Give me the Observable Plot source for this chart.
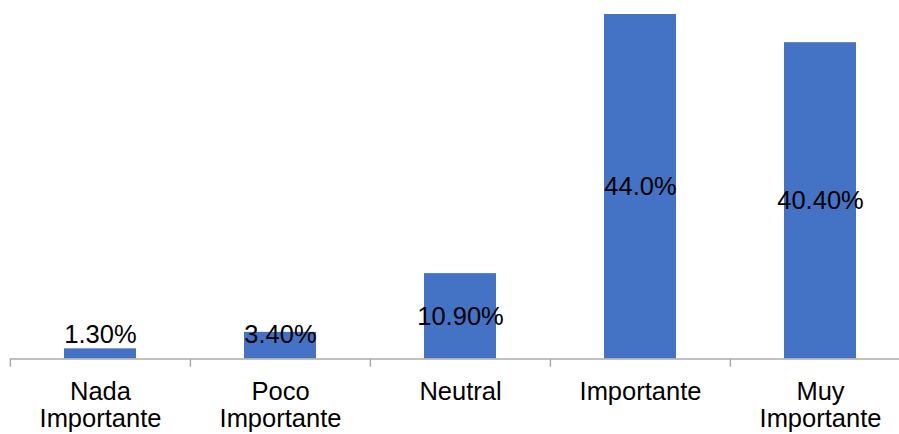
<!DOCTYPE html>
<html>
<head>
<meta charset="utf-8">
<script src="https://cdn.jsdelivr.net/npm/d3@7"></script>
<script src="https://cdn.jsdelivr.net/npm/@observablehq/plot@0.6"></script>
<style>
  html, body { margin: 0; padding: 0; background: #fff; }
  svg { display: block; font-family: "Liberation Sans", Arial, sans-serif; }
</style>
</head>
<body>
<div id="chart"></div>
<script>
const categories = ["Nada\nImportante", "Poco\nImportante", "Neutral", "Importante", "Muy\nImportante"];
const values = [1.3, 3.4, 10.9, 44.0, 40.4];
const valueLabels = ["1.30%", "3.40%", "10.90%", "44.0%", "40.40%"];

const data = categories.map((c, i) => ({cat: c, value: values[i], label: valueLabels[i]}));

const chart = Plot.plot({
  width: 899,
  height: 434,
  marginTop: 14,
  marginBottom: 75.5,
  marginLeft: 10,
  marginRight: 0,
  style: {fontFamily: "'Liberation Sans', Arial, sans-serif", background: "#fff"},
  x: {domain: categories, range: [10, 911], paddingInner: 0.6, paddingOuter: 0.3, label: null},
  y: {domain: [0, 44], range: [358.5, 14], axis: null},
  marks: [
    Plot.barY(data, {x: "cat", y: "value", fill: "#4472C4"}),
    Plot.ruleY([0], {stroke: "#ABABAB", strokeWidth: 1.5}),
    Plot.ruleX(categories, {x: d => d, dx: -90.1, y1: 0, y2: -1.05, stroke: "#ABABAB", strokeWidth: 1.5}),
    Plot.text(data, {x: "cat", y: d => Math.max(d.value / 2, 3.15), text: "label", fontSize: 25.5, fill: "#000", lineAnchor: "middle"}),
    Plot.axisX({tickSize: 0, tickPadding: 22.5, fontSize: 25.5, lineHeight: 1.04, fill: "#000", stroke: null, label: null})
  ]
});
document.getElementById("chart").appendChild(chart);
</script>
</body>
</html>
